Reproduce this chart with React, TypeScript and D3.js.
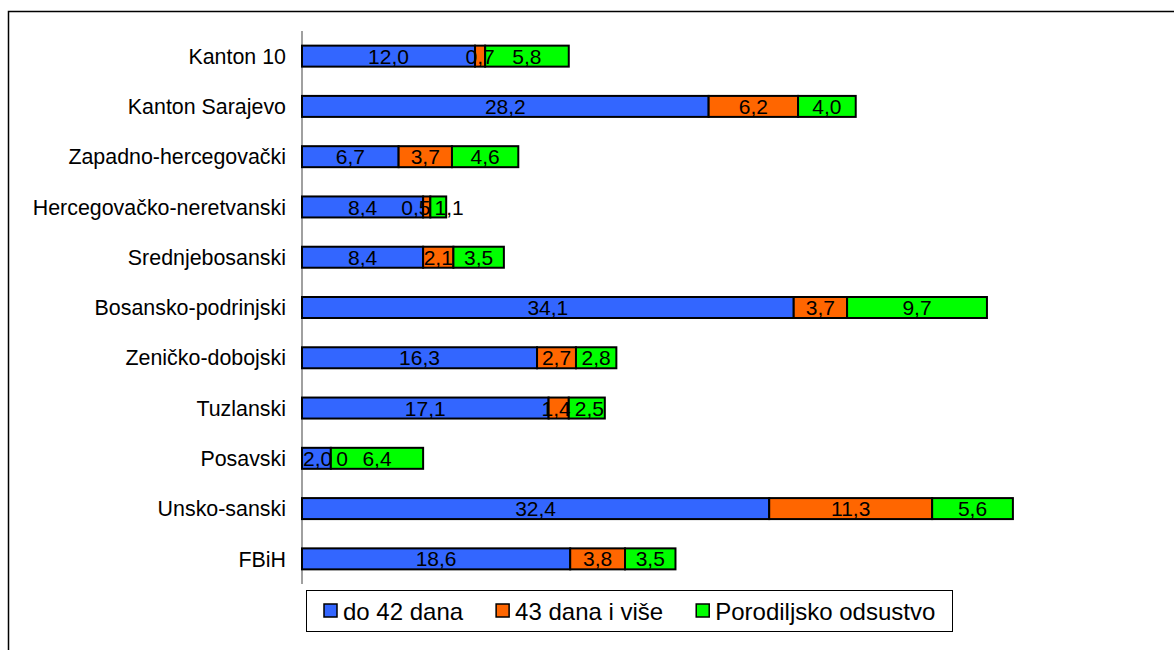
import React from "react";
import * as d3 from "d3";

const categories = [
  "Kanton 10",
  "Kanton Sarajevo",
  "Zapadno-hercegovački",
  "Hercegovačko-neretvanski",
  "Srednjebosanski",
  "Bosansko-podrinjski",
  "Zeničko-dobojski",
  "Tuzlanski",
  "Posavski",
  "Unsko-sanski",
  "FBiH",
];
const seriesNames = ["do 42 dana", "43 dana i više", "Porodiljsko odsustvo"];
const do42 = [12.0, 28.2, 6.7, 8.4, 8.4, 34.1, 16.3, 17.1, 2.0, 32.4, 18.6];
const od43 = [0.7, 6.2, 3.7, 0.5, 2.1, 3.7, 2.7, 1.4, 0.0, 11.3, 3.8];
const porodiljsko = [5.8, 4.0, 4.6, 1.1, 3.5, 9.7, 2.8, 2.5, 6.4, 5.6, 3.5];
const colors = ["#3366FF", "#FF6600", "#00FF00"];

const FONT = "Liberation Sans, Arial, Helvetica, sans-serif";
const W = 1174;
const H = 650;

let ctx: CanvasRenderingContext2D | null = null;
function measure(text: string, size: number): number {
  if (!ctx) {
    const c = document.createElement("canvas");
    ctx = c.getContext("2d");
  }
  if (!ctx) return text.length * size * 0.55;
  ctx.font = `${size}px "Liberation Sans", Arial, sans-serif`;
  return ctx.measureText(text).width;
}

const fmt = (v: number) => (v === 0 ? "0" : v.toFixed(1).replace(".", ","));

export default function App() {
  const series = [do42, od43, porodiljsko];
  const x = d3.scaleLinear().domain([0, 50]).range([302, 1023]);
  const y = d3.scaleBand<string>().domain(categories).range([31, 584]).paddingInner(0);
  const barH = 21;
  const labelSize = 21;
  const catSize = 21.4;

  const rows = categories.map((cat, i) => {
    const vals = series.map((s) => s[i]);
    const stacked: { x0: number; x1: number; v: number; k: number }[] = [];
    let acc = 0;
    vals.forEach((v, k) => {
      stacked.push({ x0: x(acc), x1: x(acc + v), v, k });
      acc += v;
    });
    // labels with collision avoidance (kept inside the plot area)
    const labels = stacked.map((s) => {
      const t = fmt(s.v);
      return { t, c: (s.x0 + s.x1) / 2, w: measure(t, labelSize) };
    });
    const gap = 4;
    const minLeft = x(0) + 1;
    for (let it = 0; it < 20; it++) {
      for (let j = 0; j < labels.length - 1; j++) {
        const a = labels[j];
        const b = labels[j + 1];
        const ov = a.c + a.w / 2 + gap - (b.c - b.w / 2);
        if (ov > 0.01) {
          a.c -= ov / 2;
          b.c += ov / 2;
        }
      }
      const f = labels[0];
      if (f.c - f.w / 2 < minLeft) f.c = minLeft + f.w / 2;
    }
    return { cat, stacked, labels, yc: (y(cat) as number) + y.bandwidth() / 2 };
  });

  const legendSize = 24;
  let lx = 324;
  const legendItems = seriesNames.map((n, k) => {
    const item = { n, k, sx: lx, tx: lx + 19 };
    lx = item.tx + measure(n, legendSize) + 33;
    return item;
  });

  return (
    <svg
      width={W}
      height={H}
      style={{ position: "absolute", left: 0, top: 0, display: "block", background: "#fff" }}
      fontFamily={FONT}
    >
      <rect x={8.5} y={11.5} width={W + 20} height={H + 20} fill="#fff" stroke="#000" strokeWidth={1.5} />
      {/* category axis */}
      <line x1={302} x2={302} y1={31} y2={584} stroke="#808080" strokeWidth={1.5} />
      {rows.map((r) => (
        <g key={r.cat}>
          <text x={286} y={r.yc} dy="0.36em" textAnchor="end" fontSize={catSize} fill="#000">
            {r.cat}
          </text>
          {r.stacked.map((s) => (
            <rect
              key={s.k}
              x={s.x0}
              y={r.yc - barH / 2}
              width={Math.max(0, s.x1 - s.x0)}
              height={barH}
              fill={colors[s.k]}
              stroke="#000"
              strokeWidth={2}
            />
          ))}
          {r.labels.map((l, k) => (
            <text key={k} x={l.c} y={r.yc} dy="0.36em" textAnchor="middle" fontSize={labelSize} fill="#000">
              {l.t}
            </text>
          ))}
        </g>
      ))}
      {/* legend */}
      <rect x={306.5} y={590.5} width={646} height={41} fill="#fff" stroke="#000" strokeWidth={1} />
      {legendItems.map((it) => (
        <g key={it.n}>
          <rect x={it.sx} y={604} width={13} height={13} fill={colors[it.k]} stroke="#000" strokeWidth={1.5} />
          <text x={it.tx} y={611} dy="0.36em" fontSize={legendSize} fill="#000">
            {it.n}
          </text>
        </g>
      ))}
    </svg>
  );
}
